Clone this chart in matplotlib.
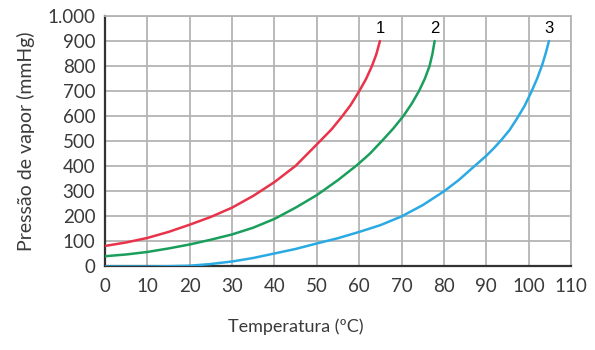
import matplotlib
matplotlib.use("Agg")
import matplotlib.pyplot as plt
from matplotlib.ticker import FuncFormatter

# Data
t1 = [0, 5, 10, 15, 20, 25, 30, 35, 40, 45, 50.5, 53.5, 56, 58, 60, 61.6, 63, 64, 64.9]
p1 = [82, 96, 114, 138, 167, 198, 235, 282, 337, 402, 496, 548, 600, 645, 700, 748, 800, 845, 900]

t2 = [0, 5, 10, 15, 20, 25, 30, 35, 40, 45, 50, 55, 59.5, 62.5, 65.3, 68, 70.4, 72.4, 74.1, 75.5, 76.6, 77.3, 77.8]
p2 = [41, 48, 58, 72, 88, 107, 128, 155, 190, 235, 285, 345, 405, 450, 500, 550, 600, 650, 700, 750, 800, 850, 900]

t3 = [0, 10, 15, 20, 25, 30, 35, 40, 45, 50, 55, 60, 65, 70, 75, 80, 83.5, 86.5, 90, 92, 93.6, 95.5,
      97.3, 99, 100.5, 102, 103.2, 104, 104.8]
p3 = [0, 0, 1, 3, 10, 20, 34, 52, 70, 92, 113, 138, 165, 200, 245, 300, 345, 390, 442, 476, 506, 545,
      592, 640, 692, 750, 805, 850, 900]

series_labels = ["1", "2", "3"]
x_ticks = list(range(0, 111, 10))
y_ticks = list(range(0, 1001, 100))

colors = ["#e8334a", "#1a9e5c", "#2aaae2"]
txt = "#3a3a3a"

plt.rcParams['font.family'] = ['Lato', 'DejaVu Sans']

fig = plt.figure(figsize=(5.95, 3.5), dpi=100)
ax = fig.add_axes([0.1765, 0.2386, 0.7832, 0.7157])

ax.set_xlim(0, 110)
ax.set_ylim(0, 1000)
ax.set_xticks(x_ticks)
ax.set_yticks(y_ticks)
ax.yaxis.set_major_formatter(FuncFormatter(lambda v, p: "1.000" if v == 1000 else f"{int(v)}"))
ax.grid(True, color="#b4b4b4", linewidth=1.3, zorder=0)
ax.set_axisbelow(True)

for s in ["top", "right"]:
    ax.spines[s].set_color("#b4b4b4")
    ax.spines[s].set_linewidth(1.3)
for s in ["left", "bottom"]:
    ax.spines[s].set_color("#333333")
    ax.spines[s].set_linewidth(1.6)

ax.tick_params(length=0, labelsize=13.5, labelcolor=txt)
ax.tick_params(axis="y", pad=7)
ax.tick_params(axis="x", pad=8)

for (t, p), c, lab in zip([(t1, p1), (t2, p2), (t3, p3)], colors, series_labels):
    ax.plot(t, p, color=c, linewidth=1.8, solid_capstyle="round",
            solid_joinstyle="round", zorder=3)
    ax.text(t[-1], p[-1] + 50, lab, ha="center", va="center", fontsize=12,
            color="black", family=["Liberation Sans", "DejaVu Sans"], zorder=4)

ax.set_ylabel("Pressão de vapor (mmHg)", fontsize=14, color=txt, labelpad=9)
fig.text(296 / 595, 1 - 327 / 350, "Temperatura (ºC)", ha="center", va="center",
         fontsize=13, color=txt)

fig.savefig("out.png", dpi=100)
